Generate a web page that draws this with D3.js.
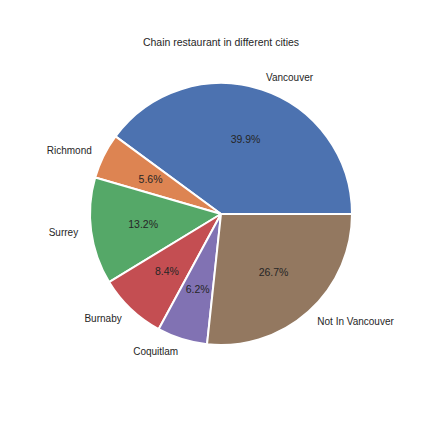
<!DOCTYPE html>
<html><head><meta charset="utf-8">
<script src="https://cdn.jsdelivr.net/npm/d3@7"></script>
<style>body{margin:0;background:#fff}text{font-family:"Liberation Sans",Arial,sans-serif;fill:#262626}</style>
</head><body>
<svg id="c" width="432" height="432"></svg>
<script>
const categories = ["Vancouver","Richmond","Surrey","Burnaby","Coquitlam","Not In Vancouver"];
const values = [39.9,5.6,13.2,8.4,6.2,26.7];
const colors = ["#4c72b0","#dd8452","#55a868","#c44e52","#8172b3","#937860"];
const svg = d3.select("#c");
const cx = 221, cy = 214, r = 131;
svg.append("text").attr("x",221).attr("y",46).attr("text-anchor","middle").attr("font-size",10.5).text("Chain restaurant in different cities");
const total = d3.sum(values);
const scale = d3.scaleLinear().domain([0,total]).range([0,2*Math.PI]);
const cum = d3.cumsum(values);
const arc = d3.arc().innerRadius(0).outerRadius(r);
const g = svg.append("g").attr("transform",`translate(${cx},${cy})`);
values.forEach((v,i)=>{
  const t1 = scale(cum[i]-v), t2 = scale(cum[i]);
  g.append("path").attr("d",arc({startAngle:Math.PI/2-t2,endAngle:Math.PI/2-t1}))
   .attr("fill",colors[i]).attr("stroke","#fff").attr("stroke-width",2).attr("stroke-linejoin","round");
  const m = (t1+t2)/2, x = Math.cos(m), y = -Math.sin(m);
  g.append("text").attr("x",x*r*1.1).attr("y",y*r*1.1).attr("dy","0.35em")
   .attr("text-anchor",x>0?"start":"end").attr("font-size",10).text(categories[i]);
  g.append("text").attr("x",x*r*0.6).attr("y",y*r*0.6).attr("dy","0.35em")
   .attr("text-anchor","middle").attr("font-size",10.5).text(v.toFixed(1)+"%");
});
</script></body></html>
